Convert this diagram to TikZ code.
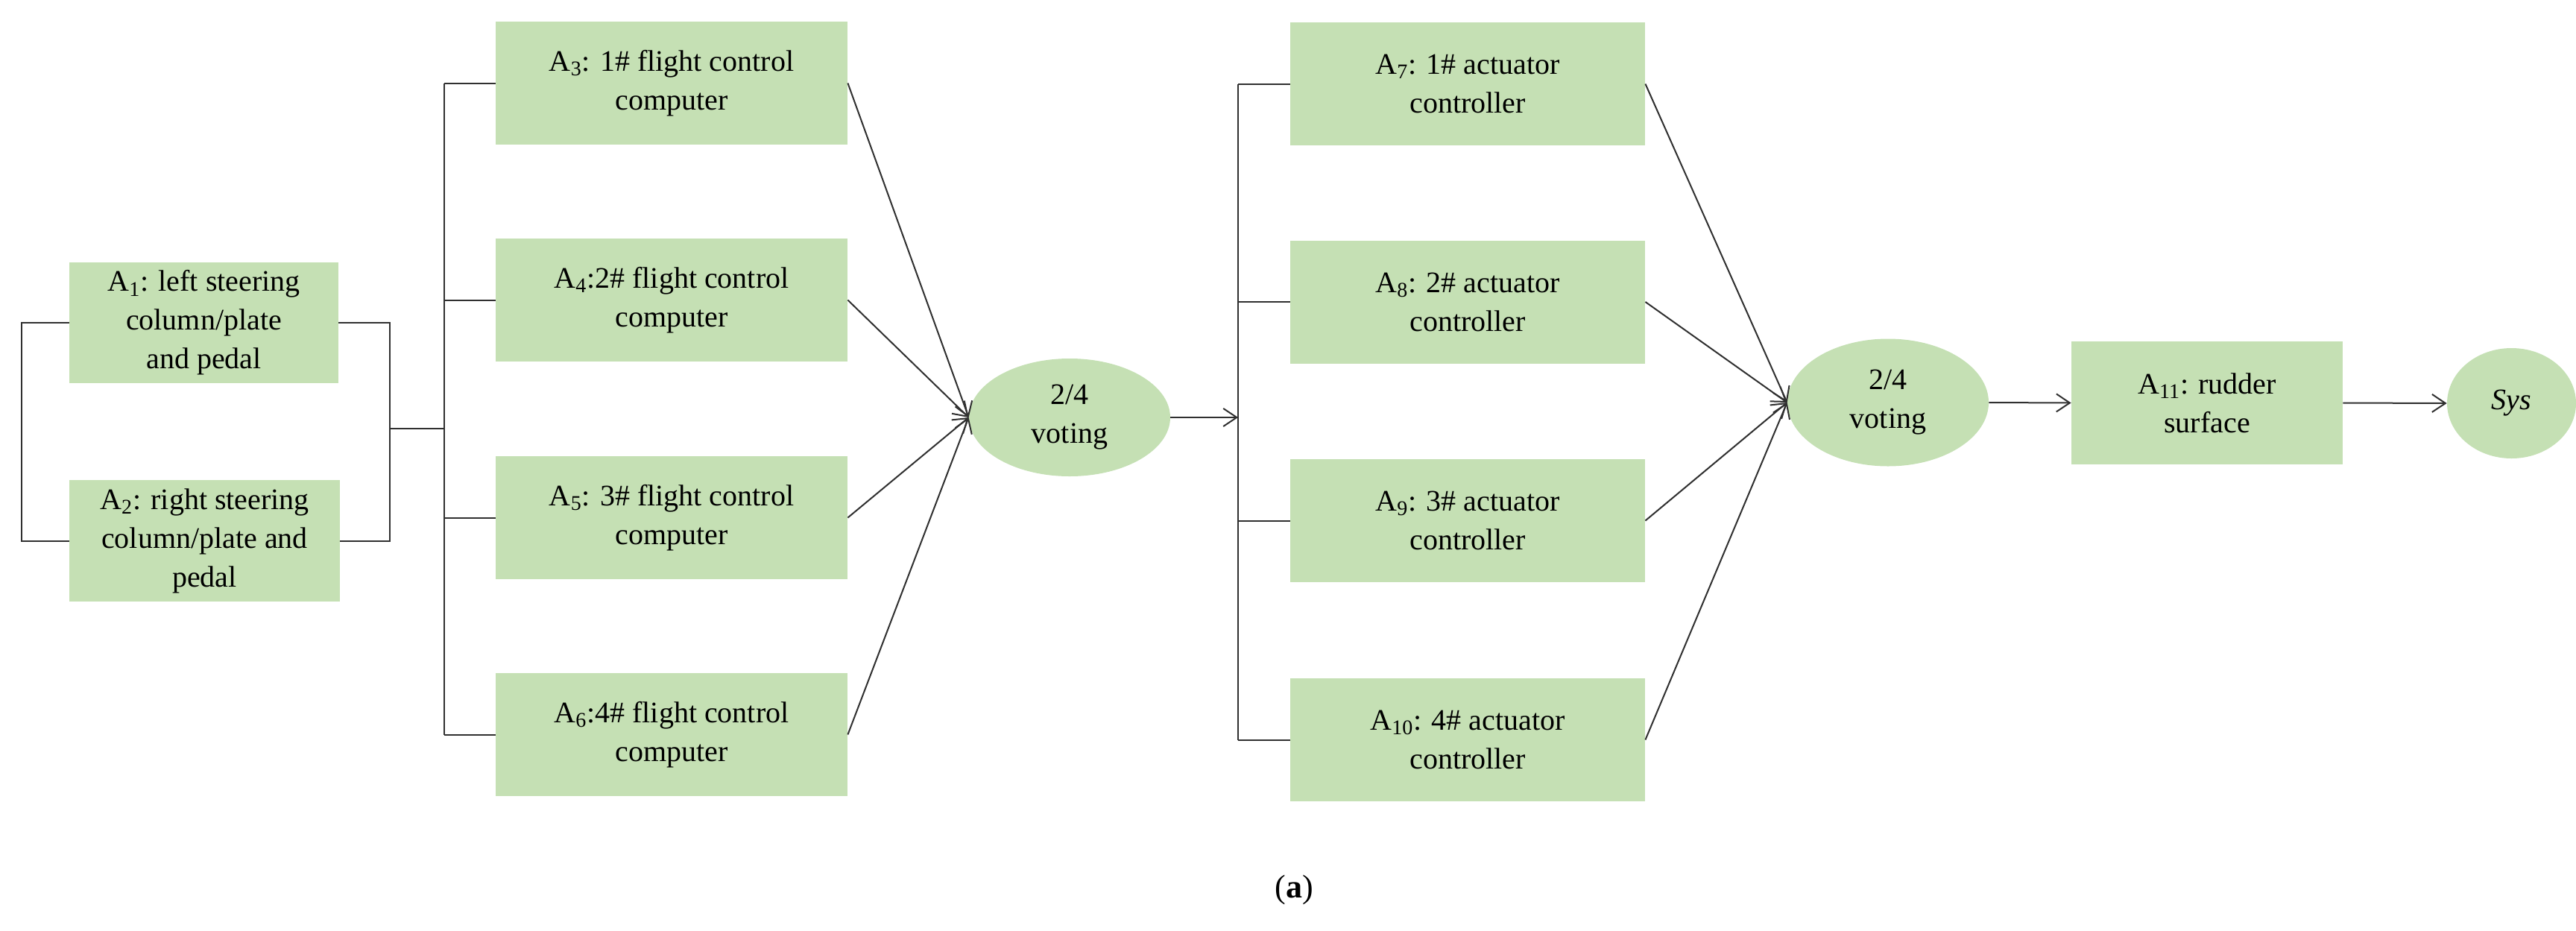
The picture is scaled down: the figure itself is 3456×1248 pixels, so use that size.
\documentclass[tikz,border=0pt]{standalone}
\usepackage{fontspec}
\setmainfont{Liberation Serif}
\usetikzlibrary{arrows.meta,shapes.geometric}
\definecolor{gfill}{HTML}{C5E0B4}
\definecolor{ln}{HTML}{303030}
\newcommand{\subn}[1]{\textsubscript{#1}}
\begin{document}
\begin{tikzpicture}[x=0.5pt,y=-0.5pt,
  box/.style={rectangle,fill=gfill,draw=none,align=center,inner sep=0pt,font=\fontsize{20}{26}\selectfont},
  ell/.style={ellipse,fill=gfill,draw=none,align=center,inner sep=0pt,font=\fontsize{20}{26}\selectfont},
  con/.style={draw=ln,line width=1pt},
  arr/.style={con,-{Straight Barb[length=9pt,width=12pt]}}]
\useasboundingbox (0,0) rectangle (3456,1248);
\node[box,minimum width=180.5pt,minimum height=81pt] (A1) at (273.5,433) {A\subn{1}: left steering\\column/plate\\and pedal};
\node[box,minimum width=181.5pt,minimum height=81.5pt] (A2) at (274.5,725.5) {A\subn{2}: right steering\\column/plate and\\pedal};
\node[box,minimum width=236pt,minimum height=82.5pt] (A3) at (901,111.5) {A\subn{3}: 1\# flight control\\computer};
\node[box,minimum width=236pt,minimum height=82.5pt] (A4) at (901,402.5) {A\subn{4}:2\# flight control\\computer};
\node[box,minimum width=236pt,minimum height=82.5pt] (A5) at (901,694.5) {A\subn{5}: 3\# flight control\\computer};
\node[box,minimum width=236pt,minimum height=82.5pt] (A6) at (901,985.5) {A\subn{6}:4\# flight control\\computer};
\node[ell,minimum width=135pt,minimum height=79pt] (E1) at (1435,560) {2/4\\voting};
\node[box,minimum width=238pt,minimum height=82.5pt] (A7) at (1969,112.5) {A\subn{7}: 1\# actuator\\controller};
\node[box,minimum width=238pt,minimum height=82.5pt] (A8) at (1969,405) {A\subn{8}: 2\# actuator\\controller};
\node[box,minimum width=238pt,minimum height=82.5pt] (A9) at (1969,698.5) {A\subn{9}: 3\# actuator\\controller};
\node[box,minimum width=238pt,minimum height=82.5pt] (A10) at (1969,992.5) {A\subn{10}: 4\# actuator\\controller};
\node[ell,minimum width=135pt,minimum height=85.5pt] (E2) at (2533,540) {2/4\\voting};
\node[box,minimum width=182pt,minimum height=82.5pt] (A11) at (2961,540.5) {A\subn{11}: rudder\\surface};
\node[ell,minimum width=86.5pt,minimum height=74pt,font=\fontsize{20}{26}\selectfont\itshape] (S) at (3369.5,541) {Sys};
\node[font=\fontsize{22}{26}\selectfont] (cap) at (1736,1194) {(\textbf{a})};
\coordinate (lb) at (29,580);
\coordinate (rb) at (523,575);
\coordinate (b1) at (596,111.5);
\coordinate (b2) at (596,985.5);
\coordinate (c1) at (1661,112.5);
\coordinate (c2) at (1661,992.5);
\draw[con] (A1.west) -| (lb) |- (A2.west);
\draw[con] (A1.east) -| (rb) |- (A2.east);
\draw[con] (rb) -- (rb -| b1);
\draw[con] (b1) -- (b2);
\draw[con] (b1) -- (A3.west);
\draw[con] (A4.west -| b1) -- (A4.west);
\draw[con] (A5.west -| b1) -- (A5.west);
\draw[con] (b2) -- (A6.west);
\foreach \n in {A3,A4,A5,A6} \draw[arr] (\n.east) -- (E1.west);
\draw[arr] (E1.east) -- (E1.east -| c1);
\draw[con] (c1) -- (c2);
\draw[con] (c1) -- (A7.west);
\draw[con] (A8.west -| c1) -- (A8.west);
\draw[con] (A9.west -| c1) -- (A9.west);
\draw[con] (c2) -- (A10.west);
\foreach \n in {A7,A8,A9,A10} \draw[arr] (\n.east) -- (E2.west);
\draw[arr] (E2.east) -- (A11.west);
\draw[arr] (A11.east) -- (S.west);
\end{tikzpicture}
\end{document}
